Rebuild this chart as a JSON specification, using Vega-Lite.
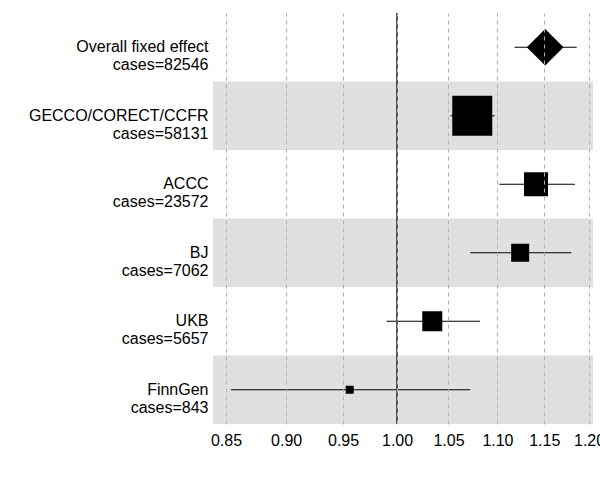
{
  "$schema": "https://vega.github.io/schema/vega-lite/v6.json",
  "autosize": "none",
  "padding": {"left": 213, "top": 13, "right": 7, "bottom": 56},
  "width": 380,
  "height": 411,
  "config": {
    "view": {"stroke": null},
    "font": "Liberation Sans",
    "axis": {"labelFont": "Liberation Sans", "labelFontSize": 16, "labelColor": "black", "domain": false, "ticks": false, "title": null}
  },
  "data": {
    "values": [
      {"study": "Overall fixed effect|cases=82546", "est": 1.151, "lo": 1.118, "hi": 1.186, "w": 0, "shade": false, "kind": "overall"},
      {"study": "GECCO/CORECT/CCFR|cases=58131", "est": 1.074, "lo": 1.052, "hi": 1.097, "w": 1600, "shade": true, "kind": "study"},
      {"study": "ACCC|cases=23572", "est": 1.141, "lo": 1.102, "hi": 1.184, "w": 576, "shade": false, "kind": "study"},
      {"study": "BJ|cases=7062", "est": 1.124, "lo": 1.072, "hi": 1.180, "w": 324, "shade": true, "kind": "study"},
      {"study": "UKB|cases=5657", "est": 1.034, "lo": 0.990, "hi": 1.082, "w": 400, "shade": false, "kind": "study"},
      {"study": "FinnGen|cases=843", "est": 0.956, "lo": 0.854, "hi": 1.072, "w": 64, "shade": true, "kind": "study"}
    ]
  },
  "encoding": {
    "y": {"field": "study", "type": "nominal",
      "scale": {"domain": ["Overall fixed effect|cases=82546", "GECCO/CORECT/CCFR|cases=58131", "ACCC|cases=23572", "BJ|cases=7062", "UKB|cases=5657", "FinnGen|cases=843"], "paddingInner": 0, "paddingOuter": 0},
      "axis": {"labelExpr": "split(datum.value, '|')", "labelPadding": 5, "labelLineHeight": 18}}
  },
  "layer": [
    {
      "transform": [{"filter": "datum.shade"}],
      "mark": {"type": "rect", "color": "#e0e0e0"},
      "encoding": {}
    },
    {
      "mark": {"type": "rule", "color": "black", "strokeWidth": 1.2},
      "encoding": {
        "x": {"field": "lo", "type": "quantitative",
          "scale": {"type": "log", "domain": [0.8396, 1.2045], "nice": false, "zero": false},
          "axis": {"values": [0.85, 0.9, 0.95, 1.0, 1.05, 1.1, 1.15, 1.2], "format": ".2f", "grid": true, "gridDash": [4, 4], "gridColor": "#b0b0b0", "labelPadding": 8, "labelFlush": false, "zindex": 1}},
        "x2": {"field": "hi"}
      }
    },
    {
      "transform": [{"filter": "datum.kind == 'study'"}],
      "mark": {"type": "point", "shape": "square", "filled": true, "color": "black", "opacity": 1},
      "encoding": {
        "x": {"field": "est", "type": "quantitative"},
        "size": {"field": "w", "type": "quantitative", "scale": {"type": "linear", "domain": [0, 1600], "range": [0, 1600]}, "legend": null}
      }
    },
    {
      "transform": [{"filter": "datum.kind == 'overall'"}],
      "mark": {"type": "point", "shape": "diamond", "filled": true, "color": "black", "opacity": 1, "size": 1350},
      "encoding": {"x": {"field": "est", "type": "quantitative"}}
    },
    {
      "mark": {"type": "rule", "color": "#555555", "strokeWidth": 1.3},
      "encoding": {"x": {"datum": 1}, "y": {"value": 0}, "y2": {"value": 411}}
    }
  ]
}
